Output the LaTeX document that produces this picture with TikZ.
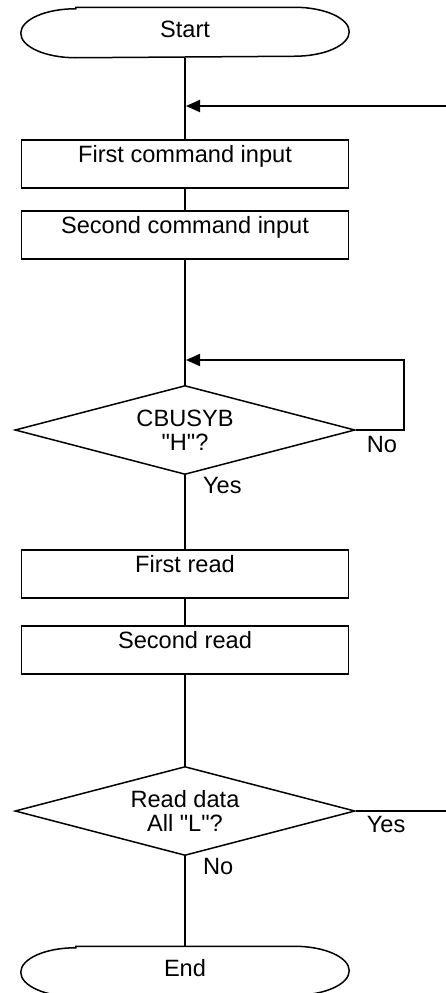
\documentclass[tikz,border=0pt]{standalone}
\usepackage{fontspec}
\setmainfont{Liberation Sans}
\usetikzlibrary{arrows.meta,shapes.geometric}

\begin{document}
\begin{tikzpicture}[x=1pt,y=-1pt,font=\fontsize{23.6}{24}\selectfont,line width=1.5pt,
  termbox/.style={minimum width=327pt,inner sep=0pt,text height=29pt,text depth=20pt},
  procbox/.style={draw,minimum width=327pt,inner sep=0pt,text height=22pt,text depth=26pt},
  testbox/.style={diamond,draw,aspect=3.8,inner sep=0pt,minimum width=340pt,minimum height=89pt,align=center},
  flowarrow/.style={line width=2pt,shorten >=1pt,-{Triangle[length=14pt,width=12pt]}}]
\useasboundingbox (0,0) rectangle (446,993);
\def\midX{185}
\def\q{\textquotedbl}
\node[termbox] (start) at (\midX,32.5) {Start};
\foreach \n/\y/\txt in {cmdA/164/First command input, cmdB/235/Second command input,
  readA/574/First read, readB/650/Second read} {
  \node[procbox] (\n) at (\midX,\y) {\txt};
}
\node[testbox] (busy) at (\midX,430) {CBUSYB\\\q H\q?};
\node[testbox] (check) at (\midX,811) {Read data\\All \q L\q?};
\node[termbox] (stop) at (\midX,971.5) {End};
% terminal outlines
\foreach \t in {start,stop} {
  \draw ([xshift=55pt]\t.north west) -- ([xshift=-55pt]\t.north east)
    arc[start angle=90,end angle=-90,x radius=55pt,y radius=24.5pt]
    -- ([xshift=55pt]\t.south west)
    arc[start angle=270,end angle=90,x radius=55pt,y radius=24.5pt] -- cycle;
}
\coordinate (joinA) at (\midX,106);
\coordinate (joinB) at (\midX,360);
\coordinate (entry) at (446,106);
\coordinate (exit) at (446,811);
% connectors
\draw (start.south) -- (cmdA.north);
\draw[flowarrow] (entry) -- (joinA);
\draw (cmdA) -- (cmdB);
\draw (cmdB) -- (busy);
\draw[flowarrow] (busy.east) -- ++(48,0) |- (joinB);
\draw (busy) -- (readA);
\draw (readA) -- (readB);
\draw (readB) -- (check);
\draw (check.east) -- (exit);
\draw (check) -- (stop.north);
% branch labels
\node[anchor=base west] (busyNo) at ([xshift=7pt,yshift=-22pt]busy.east) {No};
\node[anchor=base west] (busyYes) at ([xshift=14pt,yshift=-18pt]busy.south) {Yes};
\node[anchor=base west] (checkYes) at ([xshift=7pt,yshift=-21pt]check.east) {Yes};
\node[anchor=base west] (checkNo) at ([xshift=14pt,yshift=-18pt]check.south) {No};
\end{tikzpicture}
\end{document}
